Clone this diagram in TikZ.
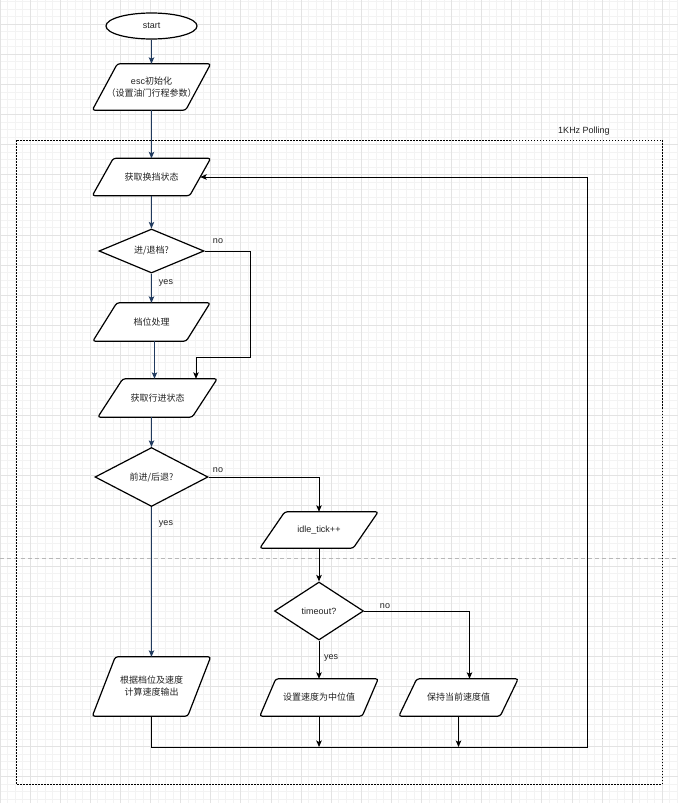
\documentclass[tikz,border=0pt]{standalone}
\usepackage{fontspec}
\setmainfont{Liberation Sans}
\newfontfamily\cjk{Noto Sans CJK SC}
\usetikzlibrary{shapes.geometric,arrows.meta}
\definecolor{flowblue}{HTML}{203A5E}
\definecolor{txt}{HTML}{222222}
\definecolor{gridmin}{HTML}{F3F3F3}
\definecolor{gridmaj}{HTML}{E3E3E3}
\pgfdeclarelayer{gridl}
\pgfdeclarelayer{shapesl}
\pgfsetlayers{gridl,shapesl,main}
\newcommand\paraoutline[2]{%
  \begin{pgfonlayer}{shapesl}
  \draw[shapeline, rounded corners=2.5pt] ([xshift=#2]#1.north west) -- (#1.north east)
    -- ([xshift=-#2]#1.south east) -- (#1.south west) -- cycle;
  \end{pgfonlayer}}
\begin{document}
\begin{tikzpicture}[x=1pt,y=-1pt,
  shapeline/.style={draw=black, line width=1.2pt, fill=white},
  base/.style={shapeline, text=txt, font=\fontsize{9}{12}\selectfont, inner sep=1pt, align=center},
  para/.style={text=txt, font=\fontsize{9}{12}\selectfont, inner sep=0pt, align=center},
  dia/.style={base, diamond, inner sep=0pt},
  lbl/.style={text=txt, font=\fontsize{9}{11}\selectfont, inner sep=0pt},
  arr/.style={draw=black, line width=1pt, -{Stealth[length=6.5pt,width=5.5pt,inset=1.5pt]}},
  barr/.style={arr, draw=flowblue}
]
\useasboundingbox (0,0) rectangle (678,803);
\begin{pgfonlayer}{gridl}
\fill[white] (0,0) rectangle (678,803);
\foreach \i in {-1,...,90} \draw[gridmin, line width=0.5pt] ({7.425+7.525*\i},0) -- ({7.425+7.525*\i},803);
\foreach \i in {0,...,107} \draw[gridmin, line width=0.5pt] (0,{1.525+7.525*\i}) -- (678,{1.525+7.525*\i});
\foreach \i in {-1,...,22} \draw[gridmaj, line width=0.6pt] ({30+30.1*\i},0) -- ({30+30.1*\i},803);
\foreach \i in {-1,...,26} \draw[gridmaj, line width=0.6pt] (0,{24.1+30.1*\i}) -- (678,{24.1+30.1*\i});
% page break line
\draw[black!28, line width=0.8pt, dash pattern=on 4pt off 3pt] (0,558) -- (678,558);
% polling container
\draw[black, line width=1pt, dash pattern=on 1.5pt off 1.5pt] (16,140) rectangle (662,784);
\end{pgfonlayer}
\node[lbl] (poll) at (584,131) {1KHz Polling};

% nodes
\node[base, ellipse, minimum width=91pt, minimum height=26pt] (start) at (151.5,26) {start};
\node[para, minimum width=118pt, minimum height=46pt] (esc) at (151.5,87) {esc{\cjk 初始化}\\{\cjk （设置油门行程参数）}};
\paraoutline{esc}{25pt}
\node[para, minimum width=118pt, minimum height=37pt] (gear) at (151.5,177) {\cjk 获取换挡状态};
\paraoutline{gear}{21pt}
\node[dia, shape aspect=2.39, minimum width=105pt, minimum height=44pt] (d1) at (151.5,251) {\cjk 进/退档?};
\node[para, minimum width=117pt, minimum height=38pt] (dangwei) at (151.5,322) {\cjk 档位处理};
\paraoutline{dangwei}{24pt}
\node[para, minimum width=119pt, minimum height=38pt] (xingjin) at (157.5,398) {\cjk 获取行进状态};
\paraoutline{xingjin}{25pt}
\node[dia, shape aspect=1.92, minimum width=113pt, minimum height=59pt] (d2) at (151.5,477) {\cjk 前进/后退?};
\node[para, minimum width=118pt, minimum height=36pt] (idle) at (319,530) {idle\_tick++};
\paraoutline{idle}{25pt}
\node[dia, shape aspect=1.53, minimum width=89pt, minimum height=58pt] (d3) at (319,611) {timeout?};
\node[para, minimum width=118pt, minimum height=59pt] (genju) at (151.5,686.5) {\cjk 根据档位及速度\\\cjk 计算速度输出};
\paraoutline{genju}{23pt}
\node[para, minimum width=118pt, minimum height=37pt] (shezhi) at (319,697.5) {\cjk 设置速度为中位值};
\paraoutline{shezhi}{16pt}
\node[para, minimum width=119pt, minimum height=37pt] (baochi) at (458.5,697.5) {\cjk 保持当前速度值};
\paraoutline{baochi}{18pt}

\coordinate (n1) at (250,357);
\coordinate (loopR) at (587,747);

% connectors
\draw[barr] (start.south) -- (esc.north);
\draw[barr] (esc.south) -- (gear.north);
\draw[barr] (gear.south) -- (d1.north);
\draw[barr] (d1.south) -- (dangwei.north);
\draw[barr] ([xshift=3pt]dangwei.south) -- ([xshift=3pt]dangwei.south |- xingjin.north);
\draw[arr] (d1.east) -| (n1) -| ([xshift=38.5pt]xingjin.north);
\draw[barr] (d2.north |- xingjin.south) -- (d2.north);
\draw[arr] (d2.east) -| (idle.north);
\draw[barr] (d2.south) -- (genju.north);
\draw[arr] (idle.south) -- (d3.north);
\draw[arr] (d3.south) -- (shezhi.north);
\draw[arr] (d3.east) -| ([xshift=11pt]baochi.north);
\draw[arr] (shezhi.south) -- (shezhi.south |- loopR);
\draw[arr] (baochi.south) -- (baochi.south |- loopR);
\draw[arr] (genju.south) |- (loopR) |- ([xshift=-10.5pt]gear.east);

% labels
\node[lbl] (no1) at (218,241) {no};
\node[lbl] (yes1) at (166,283) {yes};
\node[lbl] (no2) at (218,470) {no};
\node[lbl] (yes2) at (166,524) {yes};
\node[lbl] (no3) at (385,606) {no};
\node[lbl] (yes3) at (331,658) {yes};
\end{tikzpicture}
\end{document}
